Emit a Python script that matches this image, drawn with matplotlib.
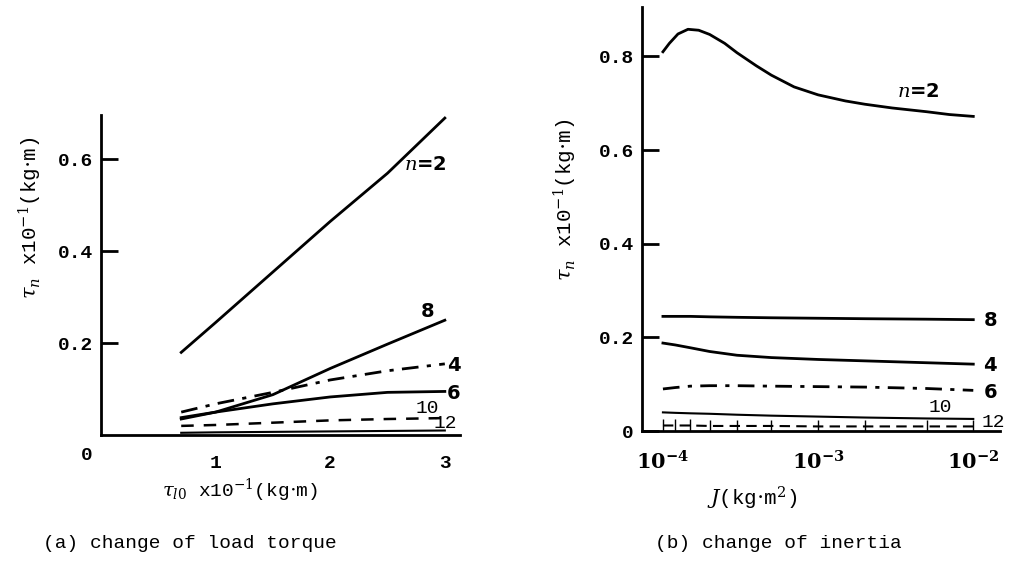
import numpy as np
import matplotlib
matplotlib.use("Agg")
import matplotlib.pyplot as plt

plt.rcParams['font.family'] = ['Liberation Mono', 'DejaVu Sans Mono']
plt.rcParams['mathtext.fontset'] = 'dejavuserif'

# (a) change of load torque
tau_l0 = [0.7, 1.0, 1.5, 2.0, 2.5, 3.0]
a_n2 = [0.18, 0.245, 0.355, 0.465, 0.57, 0.69]
a_n8 = [0.038, 0.05, 0.088, 0.145, 0.198, 0.25]
a_n4 = [0.05, 0.068, 0.093, 0.12, 0.14, 0.155]
a_n6 = [0.035, 0.05, 0.068, 0.083, 0.093, 0.095]
a_n10 = [0.02, 0.022, 0.027, 0.032, 0.035, 0.037]
a_n12 = [0.005, 0.006, 0.007, 0.008, 0.009, 0.01]

# (b) change of inertia
J2 = [1e-4, 1.1e-4, 1.25e-4, 1.45e-4, 1.7e-4, 2e-4, 2.5e-4, 3e-4, 4e-4,
      5e-4, 7e-4, 1e-3, 1.5e-3, 2e-3, 3e-3, 5e-3, 7e-3, 1e-2]
b_n2 = [0.81, 0.828, 0.848, 0.858, 0.856, 0.847, 0.828, 0.808, 0.78,
        0.76, 0.735, 0.718, 0.705, 0.698, 0.69, 0.682, 0.676, 0.672]
J = [1e-4, 1.2e-4, 1.5e-4, 2e-4, 3e-4, 5e-4, 1e-3, 2e-3, 5e-3, 1e-2]
b_n8 = [0.245, 0.245, 0.245, 0.244, 0.243, 0.242, 0.241, 0.240, 0.239, 0.238]
b_n4 = [0.188, 0.184, 0.178, 0.170, 0.162, 0.157, 0.153, 0.150, 0.146, 0.143]
b_n6 = [0.090, 0.093, 0.096, 0.097, 0.097, 0.096, 0.095, 0.094, 0.091, 0.087]
b_n10 = [0.040, 0.039, 0.038, 0.037, 0.035, 0.033, 0.031, 0.029, 0.027, 0.026]
b_n12 = [0.012, 0.012, 0.012, 0.011, 0.011, 0.011, 0.010, 0.010, 0.010, 0.010]

fig = plt.figure(figsize=(10.15, 5.68), dpi=100)
axa = fig.add_axes([0.0995, 0.234, 0.354, 0.563])
axb = fig.add_axes([0.6325, 0.241, 0.353, 0.747])

k = dict(color='black')
lab = dict(fontsize=14, fontweight='bold', fontfamily='DejaVu Sans')
dashdot = (0, (6, 3, 1.5, 3))

for ax in (axa, axb):
    for s in ('top', 'right'):
        ax.spines[s].set_visible(False)
    ax.spines['left'].set_linewidth(2)
    ax.spines['bottom'].set_linewidth(2)
    ax.tick_params(axis='y', direction='in', length=12, width=2, pad=6,
                   labelsize=14)
    ax.tick_params(axis='x', length=0, pad=14, labelsize=14)

# left panel
axa.plot(tau_l0, a_n2, lw=2, **k)
axa.plot(tau_l0, a_n8, lw=2, **k)
axa.plot(tau_l0, a_n4, lw=2, ls=dashdot, **k)
axa.plot(tau_l0, a_n6, lw=2, **k)
axa.plot(tau_l0, a_n10, lw=1.8, ls=(0, (5, 4)), **k)
axa.plot(tau_l0, a_n12, lw=1.5, **k)
axa.set_xlim(0, 3.135)
axa.set_ylim(0, 0.696)
axa.set_xticks([1, 2, 3])
axa.set_yticks([0.2, 0.4, 0.6])
axa.set_yticklabels(['0.2', '0.4', '0.6'], fontweight='bold')
axa.set_xticklabels(['1', '2', '3'], fontweight='bold')
axa.text(-0.12, -0.045, '0', ha='center', va='center', fontsize=14,
         fontweight='bold')
axa.text(2.83, 0.59, '$n$=2', ha='center', va='center', **lab)
axa.text(2.85, 0.268, '8', ha='center', va='center', **lab)
axa.text(3.08, 0.152, '4', ha='center', va='center', clip_on=False, **lab)
axa.text(3.08, 0.091, '6', ha='center', va='center', clip_on=False, **lab)
axa.text(2.85, 0.058, '10', ha='center', va='center', fontsize=14)
axa.text(3.0, 0.026, '12', ha='center', va='center', fontsize=14)
axa.set_ylabel(r'$\tau_n$ x10$^{-1}$(kg$\cdot$m)', fontsize=15)
axa.yaxis.set_label_coords(-0.16, 0.68)
axa.set_xlabel(r'$\tau_{l0}$ x10$^{-1}$(kg$\cdot$m)', fontsize=14)
axa.xaxis.set_label_coords(0.387, -0.13)

# right panel
axb.set_xscale('log')
axb.plot(J2, b_n2, lw=2, **k)
axb.plot(J, b_n8, lw=2, **k)
axb.plot(J, b_n4, lw=2, **k)
axb.plot(J, b_n6, lw=2, ls=dashdot, **k)
axb.plot(J, b_n10, lw=1.5, **k)
axb.plot(J, b_n12, lw=1.5, ls=(0, (5, 3)), marker='|', ms=8, **k)
axb.set_xlim(10 ** -4.135, 10 ** -1.826)
axb.set_ylim(0, 0.906)
axb.set_xticks([1e-4, 1e-3, 1e-2])
axb.set_xticklabels([r'$\mathbf{10^{-4}}$', r'$\mathbf{10^{-3}}$',
                     r'$\mathbf{10^{-2}}$'], fontsize=15)
axb.minorticks_off()
axb.set_yticks([0, 0.2, 0.4, 0.6, 0.8])
axb.set_yticklabels(['0', '0.2', '0.4', '0.6', '0.8'], fontweight='bold')
axb.text(10 ** -2.355, 0.725, '$n$=2', ha='center', va='center', **lab)
axb.text(10 ** -1.89, 0.236, '8', ha='center', va='center', clip_on=False, **lab)
axb.text(10 ** -1.89, 0.141, '4', ha='center', va='center', clip_on=False, **lab)
axb.text(10 ** -1.89, 0.083, '6', ha='center', va='center', clip_on=False, **lab)
axb.text(10 ** -2.21, 0.05, '10', ha='center', va='center', fontsize=14)
axb.text(10 ** -1.87, 0.018, '12', ha='center', va='center', clip_on=False,
         fontsize=14)
axb.set_ylabel(r'$\tau_n$ x10$^{-1}$(kg$\cdot$m)', fontsize=15)
axb.yaxis.set_label_coords(-0.176, 0.545)
axb.set_xlabel(r'$J$(kg$\cdot$m$^2$)', fontsize=15)
axb.xaxis.set_label_coords(0.307, -0.127)

fig.text(0.187, 0.035, '(a) change of load torque', ha='center', fontsize=14)
fig.text(0.767, 0.035, '(b) change of inertia', ha='center', fontsize=14)

fig.savefig('out.png', dpi=100)
